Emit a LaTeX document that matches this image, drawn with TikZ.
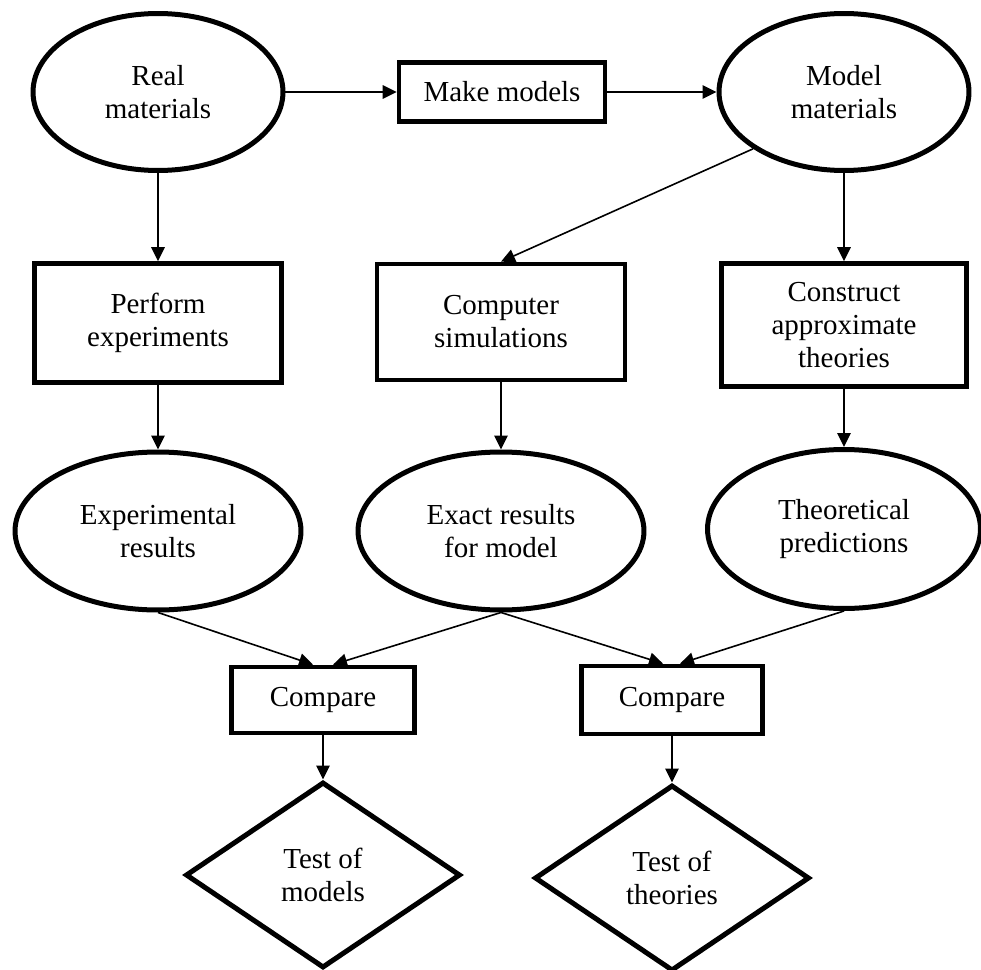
\documentclass[tikz,border=0pt]{standalone}
\usepackage{fontspec}
\setmainfont{Liberation Serif}
\usetikzlibrary{arrows.meta, shapes.geometric}

\begin{document}
\begin{tikzpicture}[x=0.02cm, y=-0.02cm, font=\fontsize{16.5}{18.8}\selectfont,
    proc/.style={draw=black, line width=0.095cm, align=center, inner sep=0pt},
    result/.style={ellipse, draw=black, line width=0.1cm, align=center, inner sep=0pt},
    test/.style={diamond, draw=black, line width=0.1cm, align=center, inner sep=0pt, minimum width=5.5cm, minimum height=3.72cm},
    link/.style={line width=0.032cm, -{Triangle[length=0.28cm, width=0.27cm]}}]
    \useasboundingbox (0, 0) rectangle (981, 970);
    \node[result, minimum width=5.0cm, minimum height=3.14cm] (real) at (158, 92) {Real\\materials};
    \node[proc, minimum width=4.12cm, minimum height=1.18cm] (make) at (502, 92) {Make models};
    \node[result, minimum width=5.0cm, minimum height=3.14cm] (model) at (844, 92) {Model\\materials};
    \node[proc, minimum width=4.94cm, minimum height=2.38cm] (perform) at (158, 323) {Perform\\experiments};
    \node[proc, minimum width=4.96cm, minimum height=2.32cm] (comp) at (501, 322) {Computer\\simulations};
    \node[proc, minimum width=4.9cm, minimum height=2.46cm] (construct) at (844, 325) {Construct\\approximate\\theories};
    \node[result, minimum width=5.72cm, minimum height=3.16cm] (exper) at (158, 531) {Experimental\\results};
    \node[result, minimum width=5.72cm, minimum height=3.16cm] (exact) at (501, 531) {Exact results\\for model};
    \node[result, minimum width=5.46cm, minimum height=3.18cm] (theo) at (844, 529) {Theoretical\\predictions};
    \node[proc, minimum width=3.66cm, minimum height=1.32cm] (cmpa) at (323, 700) {Compare};
    \node[proc, minimum width=3.62cm, minimum height=1.36cm] (cmpb) at (672, 700) {Compare};
    \node[test] (testa) at (323, 875) {Test of\\models};
    \node[test] (testb) at (672, 878) {Test of\\theories};
    \draw[link] (real) -- (make);
    \draw[link] (make) -- (model);
    \draw[link] (real) -- (perform);
    \draw[link] (model.212) -- (comp.north);
    \draw[link] (model) -- (construct);
    \draw[link] (perform) -- (exper);
    \draw[link] (comp) -- (exact);
    \draw[link] (construct) -- (theo);
    \draw[link] (exper.south) -- ([xshift=-0.2cm]cmpa.north);
    \draw[link] (exact.south) -- ([xshift=0.2cm]cmpa.north);
    \draw[link] (exact.south) -- ([xshift=-0.18cm]cmpb.north);
    \draw[link] (theo.south) -- ([xshift=0.16cm]cmpb.north);
    \draw[link] (cmpa) -- (testa);
    \draw[link] (cmpb) -- (testb);
\end{tikzpicture}
\end{document}
